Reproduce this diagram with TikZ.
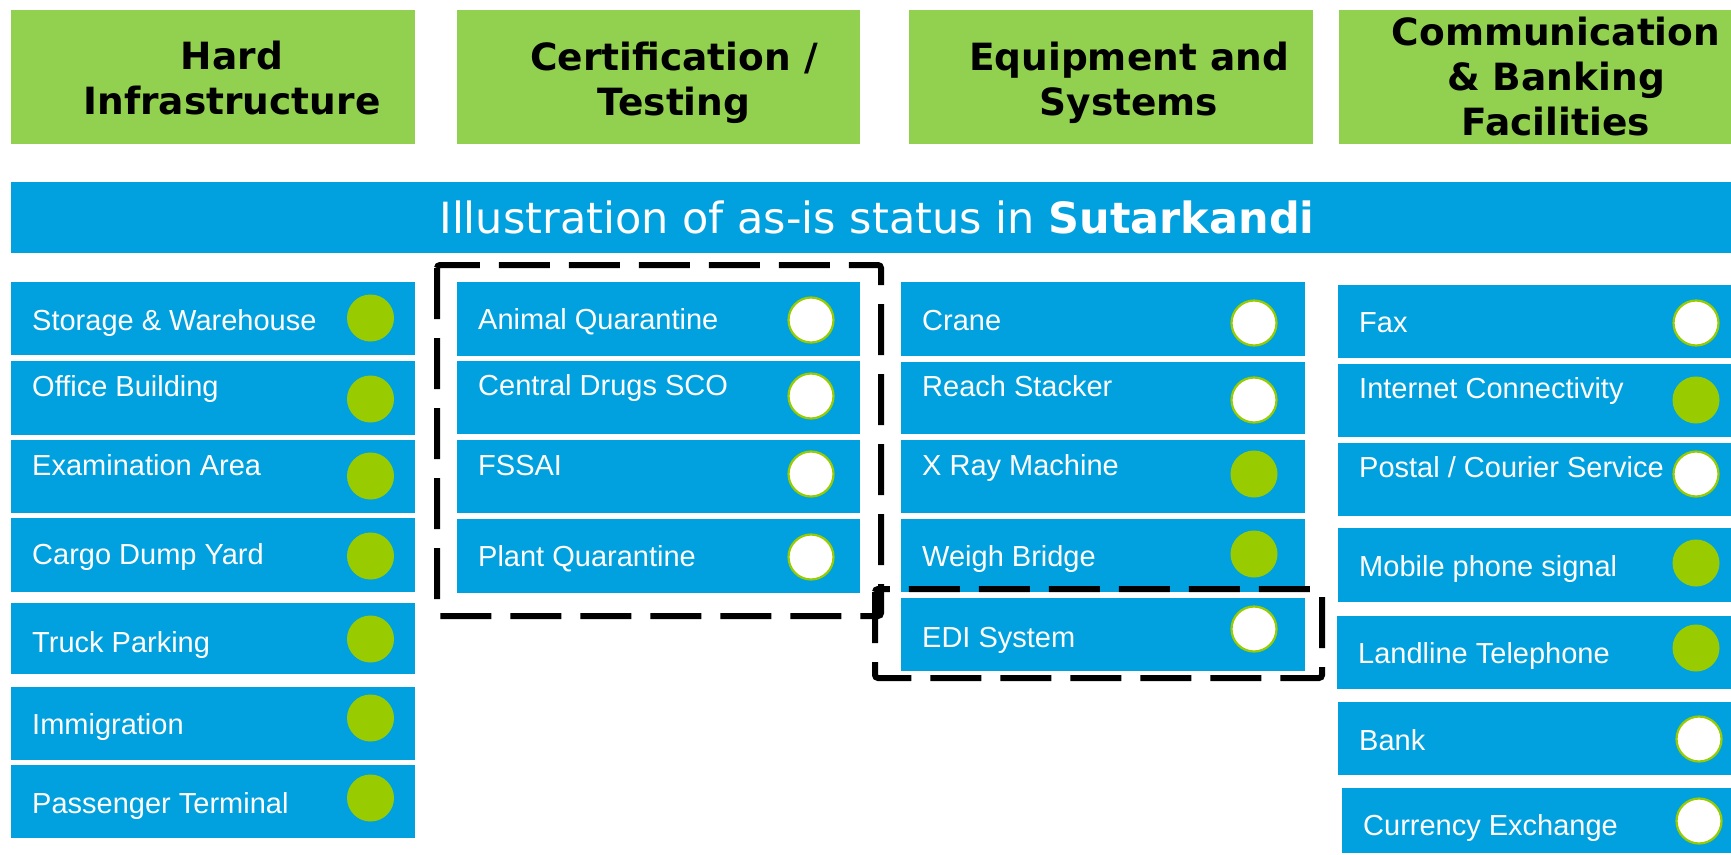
\documentclass[tikz,border=0pt]{standalone}
\usepackage{fontspec}
\setmainfont{Liberation Sans}
\newfontfamily\dejavu{DejaVu Sans}
\definecolor{hdrgreen}{HTML}{92D050}
\definecolor{itemblue}{HTML}{00A1DE}
\definecolor{dotgreen}{HTML}{99CC00}
\tikzset{
  hdrbox/.style={fill=hdrgreen, draw=none, inner sep=0pt, anchor=north west},
  hdrtext/.style={inner sep=0pt, align=center, text=black, font=\dejavu\bfseries\fontsize{37.5}{45}\selectfont},
  bannerbox/.style={fill=itemblue, draw=none, inner sep=0pt, anchor=north west},
  bannertext/.style={inner sep=0pt, text=white, font=\dejavu\fontsize{43}{50}\selectfont},
  itembox/.style={fill=itemblue, draw=none, inner sep=0pt, anchor=north west},
  itemtext/.style={inner sep=0pt, text=white, anchor=base west, font=\fontsize{29}{34}\selectfont},
  dotyes/.style={circle, fill=dotgreen, draw=none, minimum size=47pt, inner sep=0pt},
  dotno/.style={circle, fill=white, draw=dotgreen, line width=2.2pt, minimum size=45pt, inner sep=0pt},
  dashline/.style={draw=black, line width=6pt, dash pattern=on 51pt off 19pt, rounded corners=3pt}
}
\newcommand\itm[9]{%
  \pgfmathsetmacro\itmw{#4-#2}\pgfmathsetmacro\itmh{#5-#3}%
  \node[itembox, minimum width=\itmw pt, minimum height=\itmh pt] (#1) at (#2,#3) {};
  \node[itemtext] (#1-t) at (#2+21,#7) {#6};
  \node[#9] (#1-d) at (\itmcx,#8) {};
}
\begin{document}
\begin{tikzpicture}[x=1pt, y=-1pt]
\useasboundingbox (0,0) rectangle (1731,854);
% headers
\node[hdrbox, minimum width=404pt, minimum height=134pt] (h1) at (11,10) {};
\node[hdrbox, minimum width=403pt, minimum height=134pt] (h2) at (457,10) {};
\node[hdrbox, minimum width=404pt, minimum height=134pt] (h3) at (909,10) {};
\node[hdrbox, minimum width=392pt, minimum height=134pt] (h4) at (1339,10) {};
\node[hdrtext] (h1t) at (232,78) {Hard\\Infrastructure};
\node[hdrtext] (h2t) at (674,83) {Certification /\\Testing};
\node[hdrtext] (h3t) at (1129,83) {Equipment and\\Systems};
\node[hdrtext] (h4t) at (1556,77) {Communication\\\& Banking\\Facilities};
% banner
\node[bannerbox, minimum width=1720pt, minimum height=71pt] (ban) at (11,182) {};
\node[bannertext] (bant) at (877,217) {Illustration of as-is status in \textbf{Sutarkandi}};
% column 1
\def\itmcx{370.5}
\itm{a1}{11}{282}{415}{355}{Storage \& Warehouse}{330}{318}{dotyes}
\itm{a2}{11}{361}{415}{435}{Office Building}{396}{399}{dotyes}
\itm{a3}{11}{440}{415}{513}{Examination Area}{475}{476}{dotyes}
\itm{a4}{11}{518}{415}{592}{Cargo Dump Yard}{564}{556}{dotyes}
\itm{a5}{11}{603}{415}{674}{Truck Parking}{652}{639}{dotyes}
\itm{a6}{11}{687}{415}{760}{Immigration}{734}{718}{dotyes}
\itm{a7}{11}{765}{415}{838}{Passenger Terminal}{813}{798}{dotyes}
% column 2
\def\itmcx{811}
\itm{b1}{457}{282}{860}{356}{Animal Quarantine}{329}{320}{dotno}
\itm{b2}{457}{361}{860}{434}{Central Drugs SCO}{395}{396}{dotno}
\itm{b3}{457}{440}{860}{513}{FSSAI}{475}{474}{dotno}
\itm{b4}{457}{519}{860}{593}{Plant Quarantine}{566}{557}{dotno}
% column 3
\def\itmcx{1254}
\itm{c1}{901}{282}{1305}{356}{Crane}{330}{323}{dotno}
\itm{c2}{901}{362}{1305}{434}{Reach Stacker}{396}{400}{dotno}
\itm{c3}{901}{440}{1305}{513}{X Ray Machine}{475}{474}{dotyes}
\itm{c4}{901}{519}{1305}{592}{Weigh Bridge}{566}{554}{dotyes}
\itm{c5}{901}{598}{1305}{671}{EDI System}{647}{629}{dotno}
% column 4
\def\itmcx{1696}
\itm{d1}{1338}{285}{1731}{358}{Fax}{332}{323}{dotno}
\itm{d2}{1338}{364}{1731}{437}{Internet Connectivity}{398}{400}{dotyes}
\itm{d3}{1338}{443}{1731}{516}{Postal / Courier Service}{477}{474}{dotno}
\itm{d4}{1338}{528}{1731}{602}{Mobile phone signal}{576}{563}{dotyes}
\itm{d5}{1337}{616}{1731}{689}{Landline Telephone}{663}{648}{dotyes}
\def\itmcx{1699}
\itm{d6}{1338}{702}{1731}{775}{Bank}{750}{739}{dotno}
\itm{d7}{1342}{788}{1731}{853}{Currency Exchange}{835}{821}{dotno}
% dashed frames
\coordinate (f1a) at (437,265);
\coordinate (f1b) at (881,616);
\coordinate (f2a) at (875,589);
\coordinate (f2b) at (1322,678);
\draw[dashline] (f1a) rectangle (f1b);
\draw[dashline] (f2a) rectangle (f2b);
\end{tikzpicture}
\end{document}
